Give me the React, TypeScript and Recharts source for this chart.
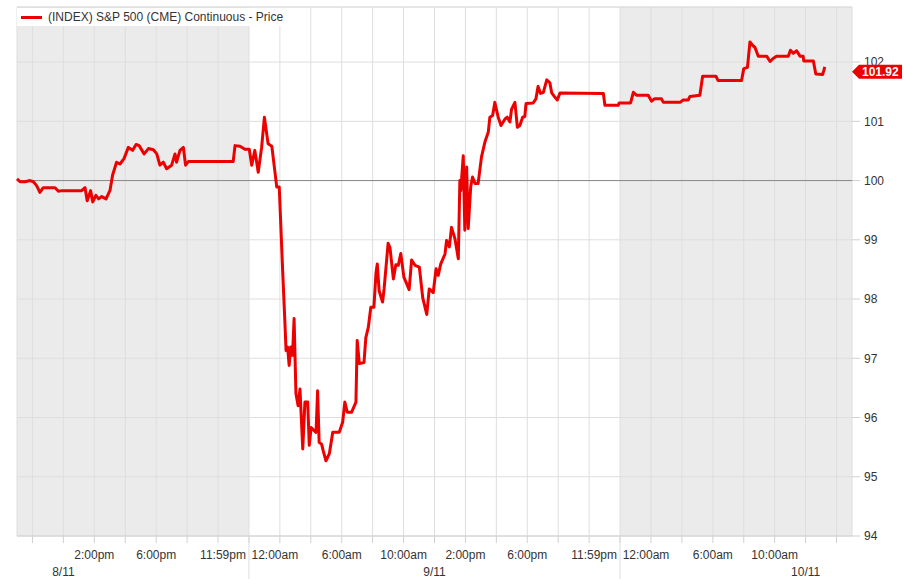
import React from "react";
import {
    LineChart,
    Line,
    XAxis,
    YAxis,
    CartesianGrid,
    ReferenceArea,
    ReferenceLine,
    Legend,
} from "recharts";

// x is a session slot: one grid cell per slot, the axis is not linear in clock time
const slots = [
    0.0, 0.1, 0.26, 0.42, 0.53, 0.64, 0.74, 0.85, 1.23, 1.34,
    1.45, 2.09, 2.2, 2.27, 2.38, 2.45, 2.55, 2.64, 2.74, 2.88,
    3.01, 3.09, 3.22, 3.33, 3.46, 3.6, 3.74, 3.85, 3.95, 4.11,
    4.25, 4.41, 4.52, 4.62, 4.73, 4.84, 5.0, 5.11, 5.16, 5.27,
    5.38, 5.45, 5.54, 6.99, 7.05, 7.21, 7.37, 7.51, 7.59, 7.69,
    7.8, 7.91, 8.0, 8.12, 8.24, 8.4, 8.48, 8.59, 8.66, 8.7,
    8.75, 8.8, 8.85, 8.91, 8.96, 9.02, 9.09, 9.15, 9.24, 9.31,
    9.4, 9.45, 9.51, 9.67, 9.72, 9.77, 9.85, 9.9, 9.99, 10.1,
    10.21, 10.42, 10.53, 10.6, 10.68, 10.82, 10.96, 11.0, 11.07, 11.22,
    11.28, 11.36, 11.44, 11.54, 11.61, 11.65, 11.71, 11.82, 11.87, 12.0,
    12.06, 12.17, 12.25, 12.33, 12.41, 12.51, 12.68, 12.76, 12.87, 13.01,
    13.12, 13.25, 13.33, 13.46, 13.55, 13.62, 13.7, 13.84, 13.89, 13.98,
    14.05, 14.16, 14.27, 14.32, 14.35, 14.43, 14.48, 14.54, 14.59, 14.67,
    14.73, 14.81, 14.91, 15.02, 15.13, 15.24, 15.29, 15.38, 15.45, 15.56,
    15.65, 15.78, 15.85, 15.94, 15.99, 16.1, 16.18, 16.26, 16.35, 16.42,
    16.46, 16.69, 16.78, 16.85, 16.93, 17.02, 17.13, 17.23, 17.29, 17.39,
    17.47, 17.56, 18.96, 19.01, 19.44, 19.47, 19.84, 19.93, 20.04, 20.41,
    20.52, 20.61, 20.84, 20.9, 21.44, 21.54, 21.7, 21.76, 22.08, 22.17,
    22.6, 22.67, 23.43, 23.5, 23.62, 23.7, 23.79, 23.86, 23.97, 24.24,
    24.35, 24.45, 24.56, 24.94, 25.01, 25.1, 25.21, 25.32, 25.42, 25.44,
    25.75, 25.83, 26.05, 26.09, 26.12,
];

const prices = [
    100.03, 99.98, 99.98, 100.0, 99.98, 99.91, 99.8, 99.88, 99.88, 99.82,
    99.83, 99.83, 99.88, 99.66, 99.83, 99.64, 99.75, 99.69, 99.73, 99.69,
    99.84, 100.09, 100.31, 100.28, 100.37, 100.56, 100.51, 100.61, 100.59, 100.45,
    100.54, 100.52, 100.45, 100.26, 100.31, 100.2, 100.26, 100.45, 100.31, 100.51,
    100.56, 100.26, 100.32, 100.32, 100.59, 100.58, 100.53, 100.53, 100.26, 100.51,
    100.14, 100.56, 101.07, 100.62, 100.58, 99.89, 99.89, 98.48, 97.64, 97.13,
    97.19, 96.88, 97.19, 97.05, 97.67, 96.4, 96.2, 96.48, 95.47, 96.26,
    96.26, 95.53, 95.83, 95.75, 96.45, 95.58, 95.55, 95.44, 95.27, 95.39,
    95.75, 95.75, 95.92, 96.26, 96.09, 96.09, 96.26, 97.3, 96.91, 96.93,
    97.35, 97.52, 97.86, 97.86, 98.45, 98.59, 98.14, 97.95, 98.17, 98.94,
    98.87, 98.34, 98.58, 98.57, 98.77, 98.37, 98.16, 98.66, 98.57, 98.54,
    98.02, 97.74, 98.17, 98.11, 98.51, 98.4, 98.59, 98.76, 98.99, 98.88,
    99.21, 99.02, 98.68, 100.0, 99.83, 100.42, 99.16, 100.23, 99.19, 99.89,
    100.06, 99.95, 99.95, 100.4, 100.65, 100.82, 101.07, 101.1, 101.32, 101.07,
    100.93, 101.04, 101.07, 100.99, 101.2, 101.32, 100.9, 100.93, 101.07, 101.08,
    101.3, 101.31, 101.38, 101.59, 101.47, 101.49, 101.7, 101.65, 101.48, 101.41,
    101.36, 101.48, 101.47, 101.27, 101.27, 101.31, 101.31, 101.49, 101.44, 101.44,
    101.34, 101.38, 101.38, 101.32, 101.32, 101.36, 101.36, 101.42, 101.44, 101.76,
    101.76, 101.69, 101.69, 101.89, 101.91, 102.34, 102.28, 102.25, 102.1, 102.1,
    102.01, 102.06, 102.1, 102.1, 102.2, 102.15, 102.19, 102.1, 102.1, 102.02,
    102.02, 101.8, 101.79, 101.86, 101.92,
];

const gridSlots = [
    0.5, 1.5, 2.5, 3.5, 4.5, 5.5, 6.5, 7.5, 8.5, 9.5, 10.5, 11.5, 12.5, 13.5,
    14.5, 15.5, 16.5, 17.5, 18.5, 19.5, 20.5, 21.5, 22.5, 23.5, 24.5, 25.5, 26.5,
];
const timeSlots = [2.5, 4.5, 6.5, 8.5, 10.5, 12.5, 14.5, 16.5, 18.5, 20.5, 22.5, 24.5];
const timeLabels = [
    "2:00pm", "6:00pm", "11:59pm", "12:00am", "6:00am", "10:00am",
    "2:00pm", "6:00pm", "11:59pm", "12:00am", "6:00am", "10:00am",
];
const dateSlots = [1.5, 13.5, 25.5];
const dateLabels = ["8/11", "9/11", "10/11"];
const dayBreaks = [7.5, 19.5];
const priceTicks = [94, 95, 96, 97, 98, 99, 100, 101, 102];

const SERIES_NAME = "(INDEX) S&P 500 (CME) Continuous - Price";
const RED = "#ec0000";
const FONT = "'Liberation Sans', Arial, sans-serif";
const X_MAX = 27;
const Y_MIN = 94;
const Y_MAX = 102.93;

const data = slots.map((slot, i) => ({ slot, price: prices[i] }));
const lastPrice = prices[prices.length - 1];

function XTick({ x, y, payload }: any) {
    const v = payload.value;
    const ti = timeSlots.indexOf(v);
    const di = dateSlots.indexOf(v);
    const label = ti >= 0 ? timeLabels[ti] : null;
    // labels next to a day break lean towards it
    let dx = 0;
    if (label === "11:59pm") dx = 5;
    if (label === "12:00am") dx = -5;
    return (
        <g>
            {dayBreaks.includes(v) && (
                <line x1={x} x2={x} y1={y - 9} y2={y + 36} stroke="#dcdcdc" />
            )}
            {label && (
                <text x={x + dx} y={y + 14} textAnchor="middle" fontSize={12} fill="#333" fontFamily={FONT}>
                    {label}
                </text>
            )}
            {di >= 0 && (
                <text x={x} y={y + 31} textAnchor="middle" fontSize={12} fill="#333" fontFamily={FONT}>
                    {dateLabels[di]}
                </text>
            )}
        </g>
    );
}

function PriceTag({ viewBox }: any) {
    if (!viewBox) return null;
    const x0 = viewBox.x + viewBox.width;
    const cy = viewBox.y + 5;
    return (
        <g>
            <polygon
                points={`${x0},${cy} ${x0 + 7},${cy - 7} ${x0 + 50},${cy - 7} ${x0 + 50},${cy + 7} ${x0 + 7},${cy + 7}`}
                fill={RED}
            />
            <text x={x0 + 10} y={cy + 4.5} fontSize={12} fontWeight="bold" fill="#fff" fontFamily={FONT}>
                {lastPrice.toFixed(2)}
            </text>
        </g>
    );
}

function LegendBox() {
    return (
        <div
            style={{
                display: "flex",
                alignItems: "center",
                background: "#fff",
                height: 18,
                width: 275,
                fontFamily: FONT,
                fontSize: 12,
                color: "#333",
            }}
        >
            <span style={{ display: "inline-block", width: 21, height: 3, background: RED, marginLeft: 4, marginRight: 6 }} />
            {SERIES_NAME}
        </div>
    );
}

export default function App() {
    return (
        <div style={{ position: "absolute", left: 0, top: 0, width: 904, height: 579, background: "#fff" }}>
            <LineChart
                width={904}
                height={579}
                data={data}
                margin={{ top: 7, right: 0, bottom: 0, left: 17 }}
                style={{ fontFamily: FONT }}
            >
                <ReferenceArea x1={0} x2={dayBreaks[0]} y1={Y_MIN} y2={Y_MAX} fill="#ebebeb" fillOpacity={1} stroke="none" zIndex={-200} />
                <ReferenceArea x1={dayBreaks[1]} x2={X_MAX} y1={Y_MIN} y2={Y_MAX} fill="#ebebeb" fillOpacity={1} stroke="none" zIndex={-200} />
                <CartesianGrid stroke="#dedede" />
                <XAxis
                    dataKey="slot"
                    type="number"
                    domain={[0, X_MAX]}
                    ticks={gridSlots}
                    interval={0}
                    allowDecimals
                    height={43}
                    tickSize={7}
                    tickLine={{ stroke: "#d0d0d0" }}
                    axisLine={{ stroke: "#d0d0d0" }}
                    tick={<XTick />}
                />
                <YAxis
                    orientation="right"
                    type="number"
                    domain={[Y_MIN, Y_MAX]}
                    ticks={priceTicks}
                    allowDataOverflow
                    width={52}
                    tickSize={8}
                    tickMargin={4}
                    axisLine={false}
                    tickLine={{ stroke: "#d0d0d0" }}
                    tick={{ fill: "#333", fontSize: 12, fontFamily: FONT }}
                />
                <ReferenceLine y={Y_MAX} stroke="#dcdcdc" />
                <ReferenceLine y={100} stroke="#888" />
                <Line
                    type="linear"
                    dataKey="price"
                    name={SERIES_NAME}
                    stroke={RED}
                    strokeWidth={3}
                    strokeLinejoin="round"
                    dot={false}
                    activeDot={false}
                    isAnimationActive={false}
                />
                <ReferenceLine y={lastPrice} stroke="none" ifOverflow="visible" zIndex={3000} label={<PriceTag />} />
                <Legend
                    layout="horizontal"
                    verticalAlign="middle"
                    align="center"
                    wrapperStyle={{ top: 8, left: 17, width: 275, height: 18 }}
                    content={<LegendBox />}
                />
            </LineChart>
        </div>
    );
}
